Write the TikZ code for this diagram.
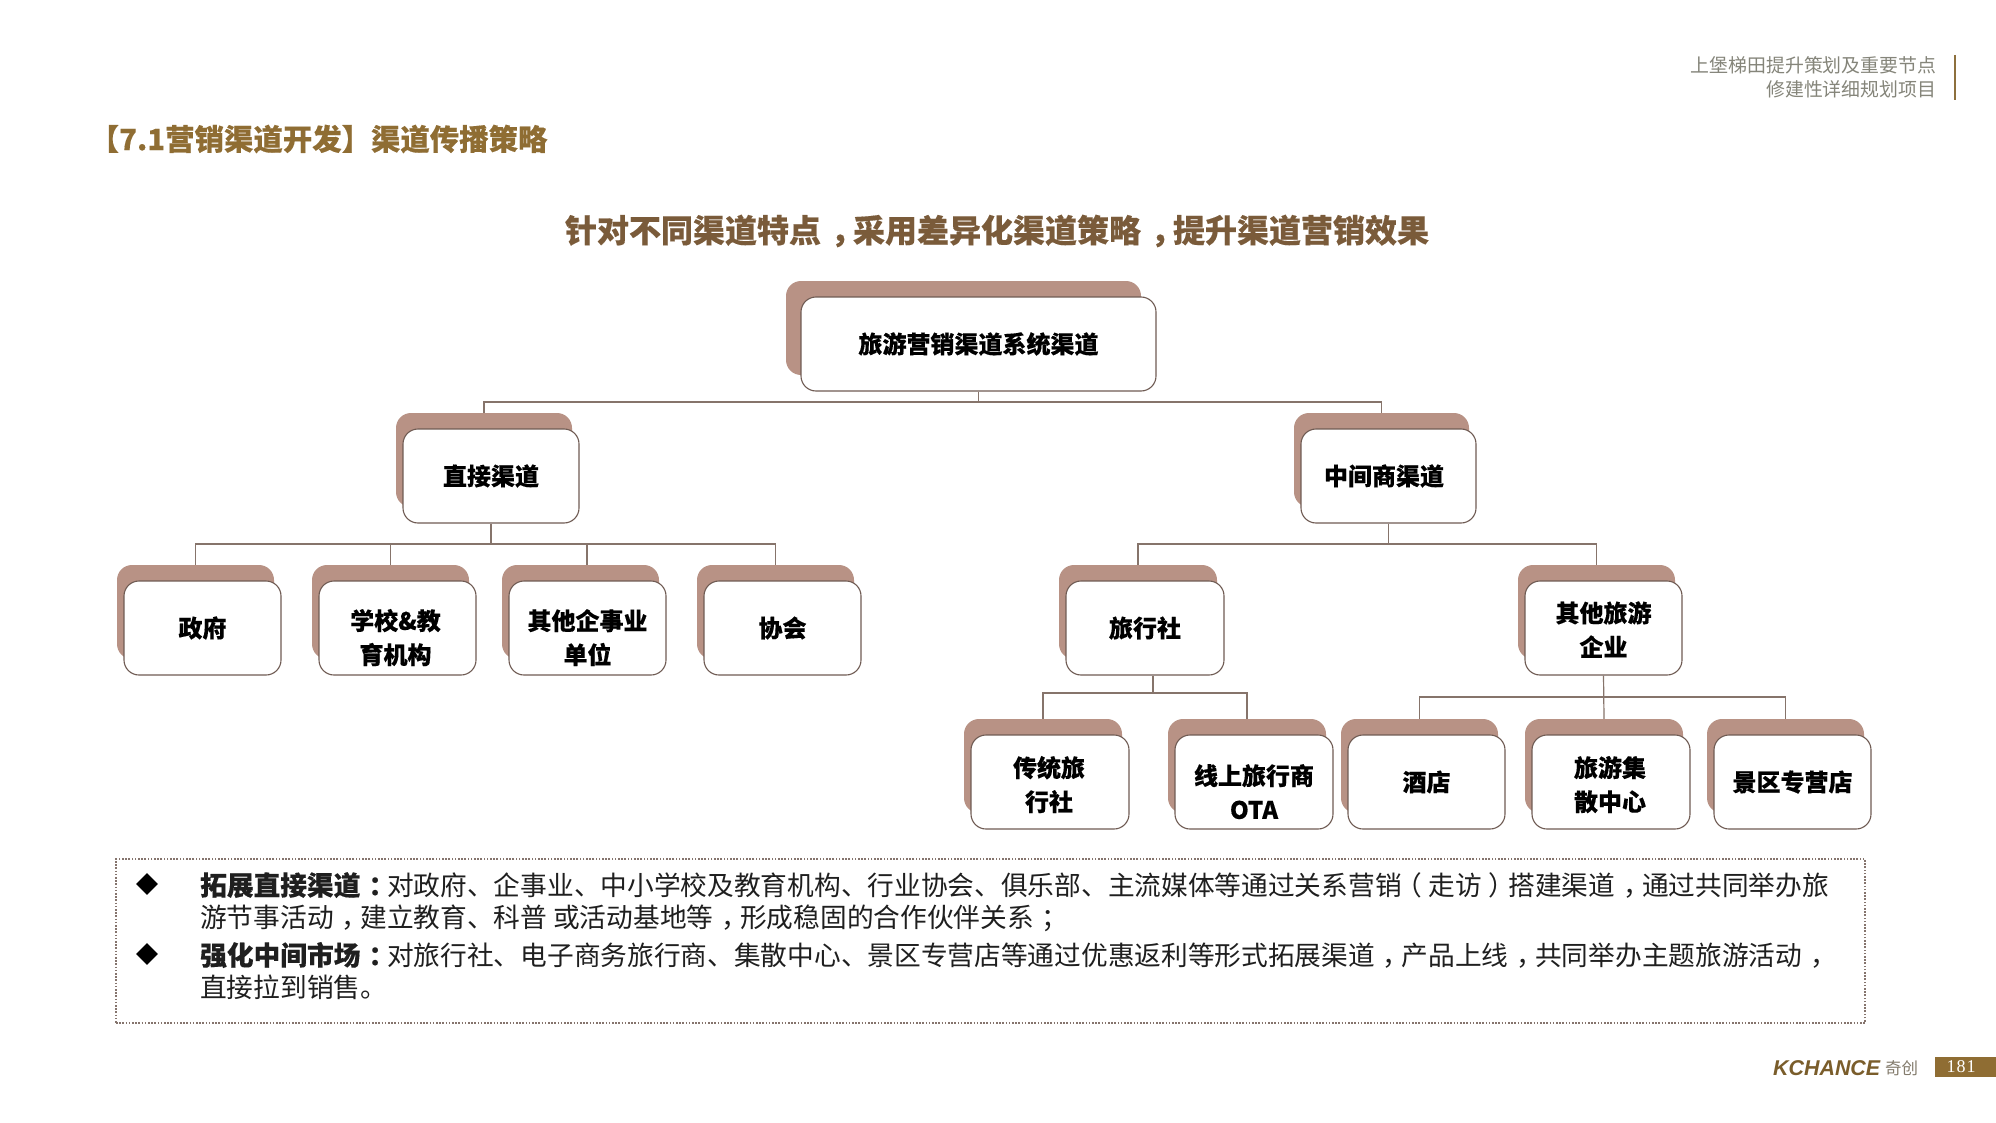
\documentclass[tikz,border=0pt]{standalone}
\usepackage{fontspec}
\setmainfont[BoldFeatures={FakeBold=0.35}]{Noto Sans CJK SC}
\newfontfamily\serifnum{Liberation Serif}
\newfontfamily\logofont{Liberation Sans}
\usetikzlibrary{shapes.geometric,calc}
\definecolor{backrose}{HTML}{B89285}
\definecolor{edgebrown}{HTML}{6F5B53}
\definecolor{linkbrown}{HTML}{86746B}
\definecolor{gold}{HTML}{8F6D33}
\definecolor{titlebrown}{HTML}{7A5B3A}
\definecolor{headgray}{HTML}{85857A}
\tikzset{
  backbox/.style={rectangle,rounded corners=15pt,fill=backrose,inner sep=0pt},
  frontbox/.style={rectangle,rounded corners=15pt,draw=edgebrown,line width=1.1pt,fill=white,inner sep=0pt,align=center,font=\fontsize{24}{34}\selectfont\bfseries,text=black},
  conn/.style={draw=linkbrown,line width=1.2pt},
  notebox/.style={rectangle,draw=edgebrown!85,line width=1.6pt,dash pattern=on 1.6pt off 1.6pt,inner sep=0pt},
  bulletmark/.style={diamond,fill=black,inner sep=0pt,minimum width=22pt,minimum height=22pt,aspect=1},
}
% name, front-left, front-top, width, height, x offset of the back box, text
\newcommand{\cbox}[7]{%
  \node[backbox,minimum width=#4pt,minimum height=#5pt] (#1b) at ({#2+#4/2-#6},{#3+#5/2-16}) {};
  \node[frontbox,minimum width=#4pt,minimum height=#5pt] (#1) at ({#2+#4/2},{#3+#5/2}) {#7};
}
% centre a full-width punctuation mark in its em box
\newcommand{\shft}[2]{\kern#1em #2\kern-#1em }
\newcommand{\cm}{\shft{0.30}{，}}
\newcommand{\cl}{\shft{0.30}{：}}
\newcommand{\sm}{\shft{0.30}{；}}
\newcommand{\lp}{\shft{-0.25}{（}}
\newcommand{\rp}{\shft{0.25}{）}}
% lowers a centred text by half of (#1 - 21)pt
\newcommand{\dn}[1]{\rule{0pt}{#1pt}}
% moves a centred line left by half of #1
\newcommand{\lf}[1]{\rule{#1pt}{0pt}}
\begin{document}
\begin{tikzpicture}[x=1pt,y=-1pt]
\useasboundingbox[fill=white] (0,0) rectangle (1996,1123);

% header
\node[anchor=west,inner sep=0pt,font=\fontsize{29.4}{34}\selectfont\bfseries,text=gold] (heading) at (89.5,139) {【7.1营销渠道开发】渠道传播策略};
\node[anchor=east,inner sep=0pt,align=right,font=\fontsize{18.9}{23.5}\selectfont,text=headgray] (project) at (1936.5,77.5) {上堡梯田提升策划及重要节点\\修建性详细规划项目};
\coordinate (bartop) at (1955,55);
\coordinate (barend) at (1955,100);
\draw[draw=gold!85!gray,line width=2.6pt] (bartop) -- (barend);
\node[anchor=center,inner sep=0pt,font=\fontsize{32}{38}\selectfont\bfseries,text=titlebrown] (subtitle) at (997,231) {针对不同渠道特点\cm 采用差异化渠道策略\cm 提升渠道营销效果};

% boxes
\cbox{root}{801}{297}{355}{94}{15}{旅游营销渠道系统渠道}
\cbox{direct}{403}{429}{176}{94}{7}{直接渠道}
\cbox{middle}{1301}{429}{175}{94}{7}{中间商渠道\lf{9}}
\cbox{gov}{124}{581}{157}{94}{7}{政府}
\cbox{school}{319}{581}{157}{94}{7}{\dn{40}学校\&教\lf{4}\\育机构\lf{4}}
\cbox{inst}{509}{581}{157}{94}{7}{\dn{40}其他企事业\\单位}
\cbox{assoc}{704}{581}{157}{94}{7}{协会}
\cbox{agency}{1066}{581}{158}{94}{7}{旅行社}
\cbox{other}{1525}{581}{157}{94}{7}{\dn{24}其他旅游\\企业}
\cbox{classic}{971}{735}{158}{94}{7}{\dn{26}传统旅\lf{2}\\行社\lf{2}}
\cbox{ota}{1175}{735}{158}{94}{7}{\dn{40}线上旅行商\\OTA}
\cbox{hotel}{1348}{735}{157}{94}{7}{酒店}
\cbox{hub}{1532}{735}{158}{94}{7}{\dn{26}旅游集\lf{2}\\散中心\lf{2}}
\cbox{shop}{1714}{735}{157}{94}{7}{景区专营店}

% connectors
\coordinate (busroot) at (978.5,402);
\coordinate (busdirect) at (491,544);
\coordinate (busmiddle) at (1388.5,544);
\coordinate (busagency) at (1153,693);
\coordinate (busother) at (1603.5,697);
\draw[conn] (root.south) -- (busroot) -| (directb.north);
\draw[conn] (busroot) -| (middleb.north);
\draw[conn] (direct.south) -- (busdirect) -| (govb.north);
\draw[conn] (busdirect) -| (schoolb.north);
\draw[conn] (busdirect) -| ([xshift=6.5pt]instb.north);
\draw[conn] (busdirect) -| (assocb.north);
\draw[conn] (middle.south) -- (busmiddle) -| (agencyb.north);
\draw[conn] (busmiddle) -| (otherb.north);
\draw[conn] ([xshift=8pt]agency.south) -- (busagency) -| (classicb.north);
\draw[conn] (busagency) -| (otab.north);
\draw[conn] (other.south) -- (hubb.north);
\draw[conn] (busother) -| (hotelb.north);
\draw[conn] (busother) -| (shopb.north);

% notes
\node[notebox,minimum width=1749pt,minimum height=164pt] (notes) at (990.5,941) {};
\node[bulletmark] (bulletA) at (147,884) {};
\node[bulletmark] (bulletB) at (147,954) {};
\node[anchor=west,inner sep=0pt,align=left,font=\fontsize{26.7}{32.5}\selectfont,text=black!88] (notetext) at (200,936) {%
{\bfseries 拓展直接渠道\cl}对政府、企事业、中小学校及教育机构、行业协会、俱乐部、主流媒体等通过关系营销\lp 走访\rp 搭建渠道\cm 通过共同举办旅\\
游节事活动\cm 建立教育、科普 或活动基地等\cm 形成稳固的合作伙伴关系\sm\\[5pt]
{\bfseries 强化中间市场\cl}对旅行社、电子商务旅行商、集散中心、景区专营店等通过优惠返利等形式拓展渠道\cm 产品上线\cm 共同举办主题旅游活动\cm\\
直接拉到销售。};

% footer
\node[anchor=west,inner sep=0pt,font=\logofont\fontsize{21.4}{24}\selectfont\bfseries\itshape,text=gold!85!black] (logo) at (1773,1068) {KCHANCE};
\node[anchor=west,inner sep=0pt,font=\fontsize{16.5}{20}\selectfont,text=gray!75!gold] (logocn) at (1885,1068) {奇创};
\node[rectangle,fill=gold,text=white,inner sep=0pt,minimum width=61pt,minimum height=20pt,font=\serifnum\fontsize{18}{20}\selectfont] (page) at (1965.5,1067) {1\kern1pt8\kern1pt1\rule{9pt}{0pt}};
\end{tikzpicture}
\end{document}
